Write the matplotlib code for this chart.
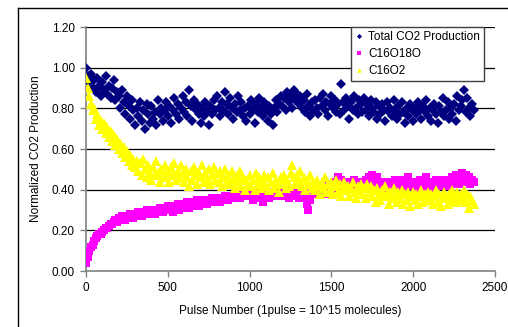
import numpy as np
import matplotlib
matplotlib.use("Agg")
import matplotlib.pyplot as plt
from matplotlib.lines import Line2D

plt.rcParams['font.family'] = ['Liberation Sans', 'DejaVu Sans']

# ---------------------------------------------------------------
# Data (one value every 10 pulses)
# ---------------------------------------------------------------
pulse_step = 10

total_co2 = [
    1.00, 0.96, 0.93, 0.97, 0.90, 0.94, 0.88, 0.95, 0.91, 0.86,
    0.93, 0.89, 0.96, 0.87, 0.91, 0.85, 0.90, 0.94, 0.84, 0.88,
    0.86, 0.80, 0.89, 0.83, 0.77, 0.86, 0.81, 0.75, 0.84, 0.79,
    0.72, 0.80, 0.76, 0.83, 0.74, 0.79, 0.70, 0.82, 0.77, 0.73,
    0.81, 0.75, 0.78, 0.72, 0.84, 0.77, 0.80, 0.74, 0.79, 0.83,
    0.76, 0.81, 0.73, 0.79, 0.85, 0.77, 0.82, 0.75, 0.80, 0.86,
    0.78, 0.83, 0.76, 0.89, 0.81, 0.74, 0.84, 0.79, 0.82, 0.77,
    0.73, 0.80, 0.76, 0.83, 0.78, 0.72, 0.81, 0.77, 0.84, 0.79,
    0.86, 0.80, 0.76, 0.83, 0.79, 0.88, 0.82, 0.77, 0.85, 0.80,
    0.75, 0.82, 0.78, 0.86, 0.79, 0.83, 0.76, 0.80, 0.74, 0.81,
    0.77, 0.84, 0.79, 0.73, 0.82, 0.78, 0.85, 0.80, 0.76, 0.83,
    0.79, 0.74, 0.81, 0.77, 0.72, 0.80, 0.84, 0.78, 0.82, 0.86,
    0.81, 0.85, 0.79, 0.88, 0.83, 0.86, 0.80, 0.89, 0.84, 0.87,
    0.82, 0.86, 0.80, 0.84, 0.78, 0.87, 0.81, 0.76, 0.83, 0.79,
    0.84, 0.80, 0.77, 0.85, 0.81, 0.87, 0.79, 0.83, 0.76, 0.82,
    0.86, 0.80, 0.84, 0.78, 0.82, 0.77, 0.92, 0.83, 0.79, 0.85,
    0.81, 0.75, 0.83, 0.79, 0.86, 0.80, 0.77, 0.84, 0.82, 0.78,
    0.85, 0.79, 0.82, 0.76, 0.84, 0.80, 0.78, 0.83, 0.75, 0.81,
    0.77, 0.82, 0.79, 0.74, 0.83, 0.78, 0.80, 0.76, 0.84, 0.79,
    0.75, 0.81, 0.77, 0.83, 0.78, 0.73, 0.80, 0.76, 0.82, 0.79,
    0.74, 0.80, 0.77, 0.83, 0.79, 0.75, 0.81, 0.78, 0.84, 0.76,
    0.80, 0.74, 0.79, 0.82, 0.77, 0.73, 0.81, 0.78, 0.85, 0.76,
    0.79, 0.83, 0.75, 0.80, 0.77, 0.82, 0.74, 0.86, 0.79, 0.81,
    0.84, 0.89, 0.78, 0.85, 0.80, 0.76, 0.82, 0.79,
]

c16o18o = [
    0.04, 0.07, 0.10, 0.12, 0.13, 0.15, 0.16, 0.17, 0.18, 0.18,
    0.19, 0.20, 0.21, 0.21, 0.22, 0.23, 0.23, 0.24, 0.25, 0.24,
    0.26, 0.25, 0.27, 0.26, 0.25, 0.27, 0.26, 0.28, 0.27, 0.26,
    0.28, 0.27, 0.29, 0.28, 0.27, 0.29, 0.28, 0.30, 0.29, 0.28,
    0.29, 0.30, 0.28, 0.30, 0.29, 0.31, 0.30, 0.29, 0.31, 0.30,
    0.32, 0.30, 0.31, 0.29, 0.32, 0.31, 0.33, 0.30, 0.32, 0.31,
    0.33, 0.32, 0.34, 0.31, 0.33, 0.32, 0.34, 0.33, 0.35, 0.32,
    0.34, 0.33, 0.35, 0.34, 0.33, 0.35, 0.34, 0.36, 0.35, 0.34,
    0.36, 0.35, 0.34, 0.36, 0.35, 0.37, 0.36, 0.35, 0.37, 0.36,
    0.37, 0.36, 0.38, 0.37, 0.36, 0.38, 0.37, 0.39, 0.38, 0.37,
    0.38, 0.37, 0.35, 0.38, 0.36, 0.39, 0.38, 0.37, 0.34, 0.36,
    0.39, 0.38, 0.36, 0.39, 0.37, 0.38, 0.40, 0.37, 0.39, 0.38,
    0.37, 0.39, 0.38, 0.40, 0.36, 0.38, 0.39, 0.37, 0.40, 0.38,
    0.36, 0.39, 0.37, 0.40, 0.38, 0.33, 0.30, 0.35, 0.38, 0.40,
    0.39, 0.41, 0.38, 0.40, 0.42, 0.39, 0.41, 0.40, 0.38, 0.41,
    0.40, 0.43, 0.41, 0.44, 0.46, 0.42, 0.45, 0.43, 0.41, 0.44,
    0.42, 0.44, 0.41, 0.43, 0.45, 0.42, 0.40, 0.43, 0.41, 0.44,
    0.42, 0.45, 0.43, 0.46, 0.44, 0.47, 0.45, 0.43, 0.46, 0.44,
    0.42, 0.44, 0.41, 0.43, 0.40, 0.42, 0.44, 0.41, 0.43, 0.45,
    0.41, 0.43, 0.45, 0.42, 0.44, 0.41, 0.43, 0.46, 0.42, 0.44,
    0.43, 0.41, 0.44, 0.42, 0.45, 0.43, 0.41, 0.44, 0.46, 0.43,
    0.42, 0.44, 0.41, 0.43, 0.45, 0.42, 0.44, 0.42, 0.45, 0.43,
    0.44, 0.42, 0.45, 0.43, 0.46, 0.44, 0.47, 0.45, 0.43, 0.46,
    0.48, 0.45, 0.47, 0.44, 0.46, 0.43, 0.45, 0.44,
]

c16o2 = [
    0.95, 0.90, 0.86, 0.82, 0.79, 0.80, 0.75, 0.77, 0.72, 0.74,
    0.70, 0.73, 0.68, 0.71, 0.66, 0.69, 0.64, 0.67, 0.62, 0.65,
    0.60, 0.63, 0.58, 0.61, 0.56, 0.59, 0.54, 0.57, 0.52, 0.55,
    0.51, 0.54, 0.49, 0.53, 0.47, 0.55, 0.50, 0.46, 0.52, 0.48,
    0.45, 0.51, 0.47, 0.54, 0.48, 0.44, 0.50, 0.46, 0.52, 0.47,
    0.49, 0.44, 0.51, 0.47, 0.53, 0.45, 0.49, 0.46, 0.52, 0.48,
    0.44, 0.50, 0.46, 0.42, 0.49, 0.45, 0.51, 0.47, 0.43, 0.48,
    0.46, 0.52, 0.44, 0.48, 0.45, 0.50, 0.43, 0.47, 0.51, 0.45,
    0.48, 0.44, 0.49, 0.42, 0.46, 0.50, 0.44, 0.47, 0.43, 0.49,
    0.45, 0.41, 0.47, 0.44, 0.49, 0.42, 0.46, 0.40, 0.45, 0.43,
    0.47, 0.42, 0.45, 0.40, 0.48, 0.43, 0.46, 0.41, 0.44, 0.47,
    0.42, 0.46, 0.40, 0.44, 0.48, 0.41, 0.45, 0.43, 0.39, 0.46,
    0.43, 0.47, 0.41, 0.45, 0.42, 0.48, 0.52, 0.46, 0.43, 0.47,
    0.44, 0.49, 0.42, 0.46, 0.40, 0.45, 0.43, 0.47, 0.41, 0.44,
    0.40, 0.45, 0.42, 0.38, 0.44, 0.41, 0.46, 0.39, 0.43, 0.40,
    0.44, 0.38, 0.42, 0.45, 0.39, 0.43, 0.37, 0.41, 0.44, 0.40,
    0.42, 0.37, 0.41, 0.44, 0.39, 0.36, 0.42, 0.40, 0.43, 0.38,
    0.41, 0.36, 0.43, 0.39, 0.42, 0.37, 0.40, 0.34, 0.41, 0.38,
    0.35, 0.40, 0.37, 0.42, 0.38, 0.33, 0.39, 0.36, 0.41, 0.37,
    0.34, 0.39, 0.36, 0.40, 0.33, 0.38, 0.35, 0.39, 0.32, 0.37,
    0.39, 0.35, 0.38, 0.33, 0.37, 0.40, 0.34, 0.38, 0.36, 0.39,
    0.35, 0.38, 0.33, 0.37, 0.40, 0.34, 0.38, 0.32, 0.36, 0.39,
    0.37, 0.33, 0.38, 0.35, 0.40, 0.36, 0.34, 0.39, 0.35, 0.38,
    0.36, 0.40, 0.34, 0.38, 0.31, 0.37, 0.35, 0.33,
]

pulses = np.arange(len(total_co2)) * pulse_step

x_ticks = [0, 500, 1000, 1500, 2000, 2500]
y_ticks = [0.0, 0.2, 0.4, 0.6, 0.8, 1.0, 1.2]

# colours
C_NAVY = "#000080"
C_MAGENTA = "#FF00FF"
C_YELLOW = "#FFFF00"
C_AXIS = "#808080"

W, H = 508, 327
fig = plt.figure(figsize=(W / 100, H / 100), dpi=100)
ax = fig.add_axes([86 / W, 1 - 271 / H, (495 - 86) / W, (271 - 27) / H])

# outer chart-area border (left and top edges visible)
fig.add_artist(Line2D([18 / W, 18 / W], [0, 1 - 8 / H], color="black", lw=1.0))
fig.add_artist(Line2D([18 / W, 1], [1 - 8 / H, 1 - 8 / H], color="black", lw=1.0))

# gridlines
for yv in y_ticks[1:]:
    ax.axhline(yv, color="black", lw=0.9, zorder=1)

ax.plot(pulses, total_co2, ls="none", marker="D", ms=5.2, mew=0,
        color=C_NAVY, label="Total CO2 Production", zorder=3)
ax.plot(pulses, c16o18o, ls="none", marker="s", ms=5.6, mew=0,
        color=C_MAGENTA, label="C16O18O", zorder=4)
ax.plot(pulses, c16o2, ls="none", marker="^", ms=6.6, mew=0,
        color=C_YELLOW, label="C16O2", zorder=5)

ax.set_xlim(0, 2500)
ax.set_ylim(0, 1.2)
ax.set_xticks(x_ticks)
ax.set_yticks(y_ticks)
ax.set_yticklabels([f"{v:.2f}" for v in y_ticks])

for side in ("top", "right"):
    ax.spines[side].set_visible(False)
for side in ("left", "bottom"):
    ax.spines[side].set_color(C_AXIS)
    ax.spines[side].set_linewidth(1.2)

ax.tick_params(axis="both", direction="out", length=4, width=1,
               color=C_AXIS, labelsize=8.5, labelcolor="black", pad=4)

ax.set_xlabel("Pulse Number (1pulse = 10^15 molecules)", fontsize=8.5, labelpad=8)
ax.set_ylabel("Normalized CO2 Production", fontsize=8.5, labelpad=7)

leg = ax.legend(loc="upper left", bbox_to_anchor=(351 / W, 1 - 27 / H),
                bbox_transform=fig.transFigure, fontsize=8.5,
                frameon=True, fancybox=False, edgecolor="#404040",
                framealpha=1, handlelength=0.6, handletextpad=0.5,
                labelspacing=0.42, borderpad=0.35, borderaxespad=0,
                markerscale=0.5)
leg.get_frame().set_linewidth(1.0)

fig.savefig("out.png", dpi=100)
